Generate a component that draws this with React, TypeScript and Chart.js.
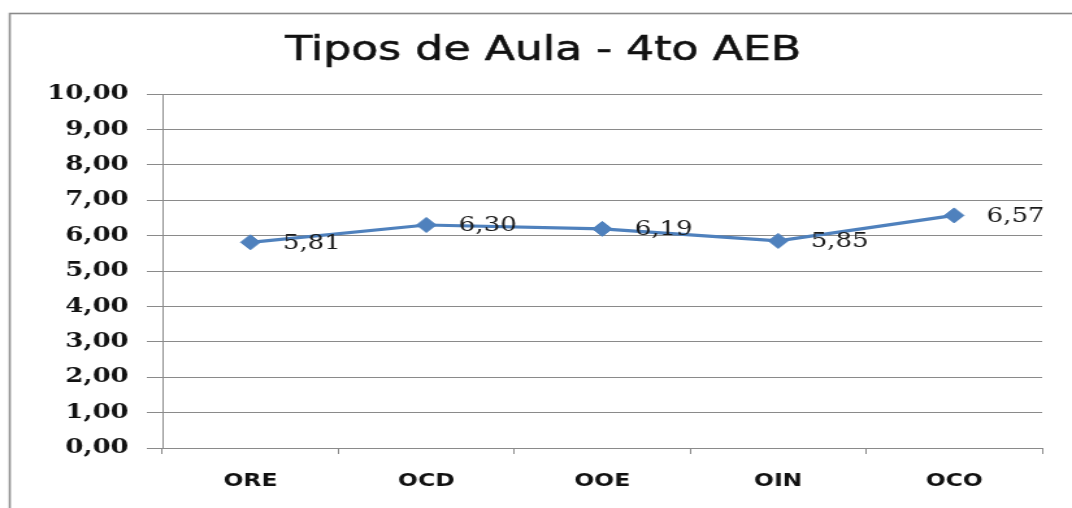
import React, { useEffect, useRef } from "react";
import { Chart, registerables } from "chart.js";

Chart.register(...registerables);

const title = "Tipos de Aula - 4to AEB";
const categories = ["ORE", "OCD", "OOE", "OIN", "OCO"];
const values = [5.81, 6.3, 6.19, 5.85, 6.57];
const yMin = 0;
const yMax = 10;
const yStep = 1;

const fmt = (v: number) => v.toFixed(2).replace(".", ",");

// internal canvas is narrower and stretched horizontally by CSS (the reference is a stretched picture)
const CSS_W = 1072;
const CSS_H = 508;
const INT_W = 825;

const framePlugin = {
  id: "frame",
  beforeDraw(chart: any) {
    const ctx = chart.ctx;
    ctx.save();
    ctx.fillStyle = "#ffffff";
    ctx.fillRect(0, 0, chart.width, chart.height);
    ctx.strokeStyle = "#8a8a8a";
    ctx.lineWidth = 1.6;
    ctx.strokeRect(7.5, 13.5, chart.width + 20, chart.height + 20);
    // title
    ctx.font = '34px "DejaVu Sans"';
    ctx.fillStyle = "#111111";
    ctx.strokeStyle = "#111111";
    ctx.lineWidth = 0.6;
    ctx.textAlign = "center";
    ctx.textBaseline = "middle";
    ctx.fillText(title, 418, 51);
    ctx.strokeText(title, 418, 51);
    ctx.restore();
  },
};

const valueLabelPlugin = {
  id: "valueLabels",
  afterDatasetsDraw(chart: any) {
    const ctx = chart.ctx;
    const meta = chart.getDatasetMeta(0);
    ctx.save();
    ctx.font = '20px "DejaVu Serif"';
    ctx.fillStyle = "#1a1a1a";
    ctx.textAlign = "left";
    ctx.textBaseline = "middle";
    meta.data.forEach((pt: any, i: number) => {
      ctx.fillText(fmt(values[i]), pt.x + 25, pt.y + 1);
    });
    ctx.restore();
  },
};

export default function App() {
  const ref = useRef<HTMLCanvasElement | null>(null);

  useEffect(() => {
    if (!ref.current) return;
    const chart = new Chart(ref.current, {
      type: "line",
      data: {
        labels: categories,
        datasets: [
          {
            data: values,
            borderColor: "#4f81bd",
            backgroundColor: "#4f81bd",
            borderWidth: 3.2,
            pointStyle: "rectRot",
            pointRadius: 7.5,
            pointBorderWidth: 1,
            pointBackgroundColor: "#4f81bd",
            pointBorderColor: "#4f81bd",
            tension: 0,
          },
        ],
      },
      options: {
        responsive: false,
        maintainAspectRatio: false,
        animation: false,
        layout: { padding: { left: 0, right: 23, top: 94, bottom: 15 } },
        plugins: {
          legend: { display: false },
          tooltip: { enabled: false },
          title: { display: false },
        },
        scales: {
          x: {
            offset: true,
            afterFit(scale: any) {
              scale.height = 45;
            },
            grid: {
              display: true,
              offset: true,
              drawOnChartArea: false,
              drawTicks: true,
              tickLength: 6,
              color: "#8a8a8a",
            },
            border: { display: true, color: "#8a8a8a" },
            ticks: {
              color: "#111111",
              padding: 17,
              font: { family: '"DejaVu Sans"', size: 18, weight: "bold" },
            },
          },
          y: {
            min: yMin,
            max: yMax,
            afterFit(scale: any) {
              scale.width = 125;
            },
            grid: {
              color: "#8a8a8a",
              lineWidth: 1,
              tickLength: 12,
            },
            border: { display: true, color: "#8a8a8a" },
            ticks: {
              stepSize: yStep,
              color: "#111111",
              padding: 14,
              font: { family: '"DejaVu Serif"', size: 20, weight: "bold" },
              callback: (v: any) => fmt(Number(v)),
            },
          },
        },
      },
      plugins: [framePlugin, valueLabelPlugin],
    });
    return () => chart.destroy();
  }, []);

  return (
    <div style={{ position: "fixed", left: 0, top: 0, width: CSS_W, height: CSS_H, background: "#fff" }}>
      <canvas
        ref={ref}
        width={INT_W}
        height={CSS_H}
        style={{ width: `${CSS_W}px`, height: `${CSS_H}px`, display: "block" }}
      />
    </div>
  );
}
